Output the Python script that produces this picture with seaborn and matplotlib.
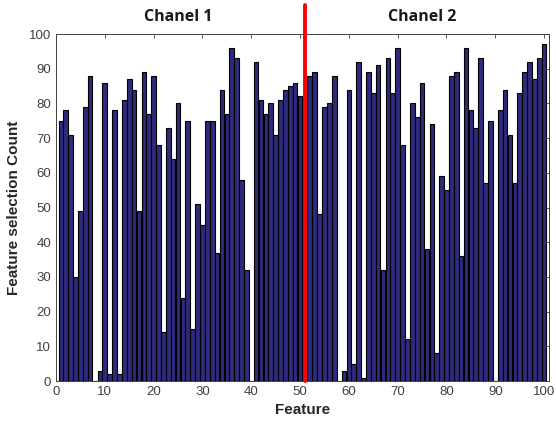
import numpy as np
import pandas as pd
import seaborn as sns
import matplotlib.pyplot as plt

# feature selection counts, features 1..100
features = list(range(1, 101))
counts = [75, 78, 71, 30, 49, 79, 88, 0, 3, 86,
          2, 78, 2, 81, 87, 84, 49, 89, 77, 88,
          68, 14, 73, 64, 80, 24, 75, 15, 51, 45,
          75, 75, 37, 84, 77, 96, 93, 58, 32, 0,
          92, 81, 77, 80, 71, 81, 84, 85, 86, 82,
          82, 88, 89, 48, 79, 80, 88, 0, 3, 84,
          5, 92, 1, 89, 83, 91, 32, 93, 83, 96,
          68, 12, 80, 76, 86, 38, 74, 8, 59, 55,
          88, 89, 36, 96, 78, 73, 93, 57, 75, 0,
          78, 84, 71, 57, 83, 89, 92, 87, 93, 97]
channel_labels = ["Chanel 1", "Chanel 2"]
channel_pos = [25, 75]
split_at = 51

sns.set_style("white")
plt.rcParams['font.family'] = ['Liberation Sans', 'DejaVu Sans']

df = pd.DataFrame({"Feature": features, "Count": counts})

fig = plt.figure(figsize=(5.56, 4.28), dpi=100)
ax = fig.add_axes([0.1007, 0.1098, 0.8867, 0.8107])

sns.barplot(data=df, x="Feature", y="Count", native_scale=True, width=0.95,
            color="#2e2a7c", saturation=1, edgecolor="black", linewidth=0.8, ax=ax)

ax.set_xlim(0, 101)
ax.set_ylim(0, 100)
ax.set_xticks(range(0, 101, 10))
ax.set_yticks(range(0, 101, 10))
ax.tick_params(direction="in", top=True, right=True, length=3, width=0.6,
               colors="#404040", labelsize=9.5, labelcolor="#404040")
for s in ax.spines.values():
    s.set_color("#404040")
    s.set_linewidth(0.7)

# channel divider
ax.plot([split_at, split_at], [0, 108.5], color="red", lw=2.8, clip_on=False, zorder=5)

for lab, xp in zip(channel_labels, channel_pos):
    ax.text(xp, 104.8, lab, ha="center", va="center", fontsize=11.5, fontweight="bold",
            family=["Open Sans", "DejaVu Sans"], color="#1a1a1a")

ax.set_xlabel("Feature", fontsize=11, fontweight="bold", color="#262626", labelpad=4)
ax.set_ylabel("Feature selection Count", fontsize=11, fontweight="bold", color="#262626", labelpad=6)

fig.savefig("out.png", dpi=100)
